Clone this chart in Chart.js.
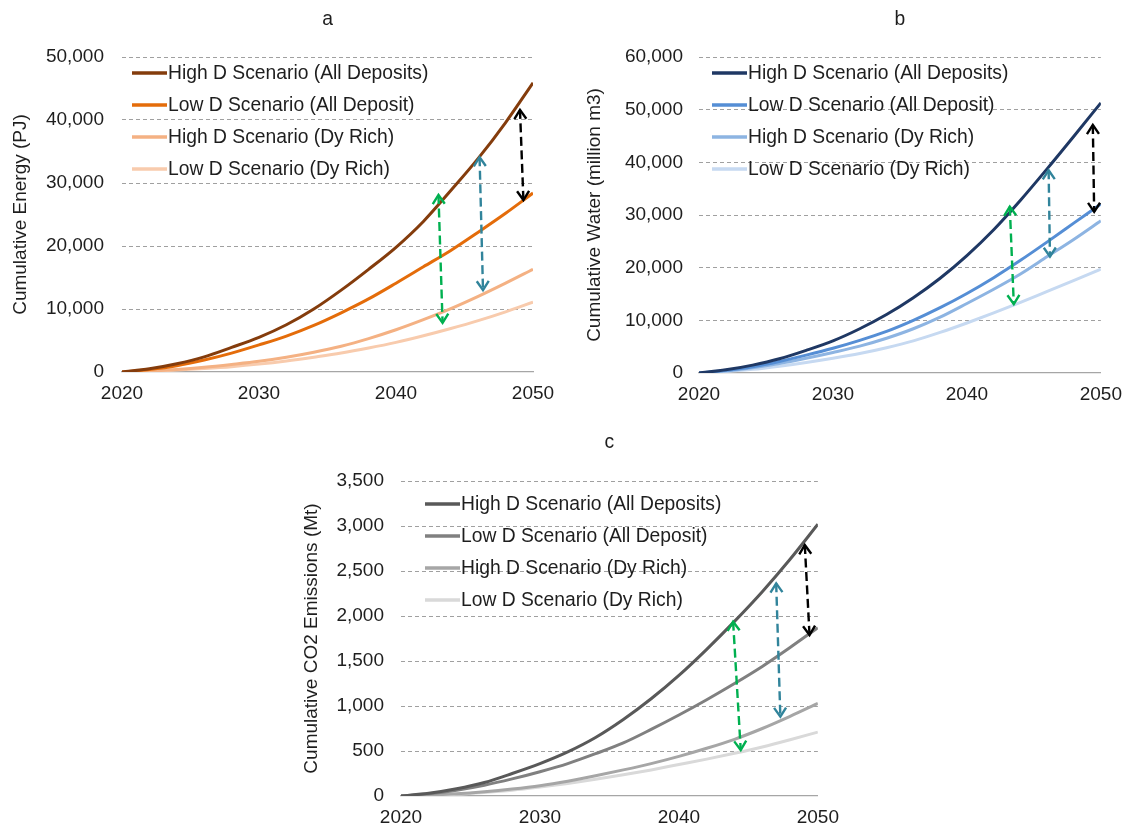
<!DOCTYPE html>
<html>
<head>
<meta charset="utf-8">
<script src="https://cdn.jsdelivr.net/npm/chart.js@4/dist/chart.umd.min.js"></script>
<style>
  html, body { margin: 0; padding: 0; background: #fff; }
  #page { position: relative; width: 1132px; height: 827px; overflow: hidden; background: #fff; }
  .panel { position: absolute; }
</style>
</head>
<body>
<div id="page">
  <div class="panel" style="left:0;top:0"><canvas id="energy" width="566" height="410"></canvas></div>
  <div class="panel" style="left:566px;top:0"><canvas id="water" width="566" height="410"></canvas></div>
  <div class="panel" style="left:283px;top:410px"><canvas id="co2" width="566" height="417"></canvas></div>
</div>
<script>
// ---- data ----
const years = [2020, 2022, 2024, 2026, 2028, 2030, 2032, 2034, 2036, 2038, 2040, 2042, 2044, 2046, 2048, 2050];
const yearTicks = [2020, 2030, 2040, 2050];
const seriesNames = [
  'High D Scenario (All Deposits)',
  'Low D Scenario (All Deposit)',
  'High D Scenario (Dy Rich)',
  'Low D Scenario (Dy Rich)'
];

// Cumulative energy, PJ
const energyHighAll = [0, 500, 1300, 2400, 3900, 5500, 7500, 10000, 13000, 16300, 19800, 23900, 28800, 33900, 39600, 45900];
const energyLowAll  = [0, 400, 1000, 1900, 3000, 4300, 5700, 7400, 9400, 11600, 14100, 16700, 19300, 22200, 25200, 28400];
const energyHighDy  = [0, 150, 400, 750, 1200, 1700, 2350, 3150, 4100, 5300, 6700, 8300, 10050, 12000, 14100, 16300];
const energyLowDy   = [0, 120, 300, 550, 850, 1250, 1750, 2350, 3000, 3800, 4700, 5750, 6900, 8150, 9550, 11100];
const energyTicks   = [0, 10000, 20000, 30000, 40000, 50000];

// Cumulative water, million m3
const waterHighAll = [0, 600, 1500, 2700, 4300, 6100, 8400, 11100, 14300, 18000, 22300, 27200, 32800, 38800, 45000, 51300];
const waterLowAll  = [0, 500, 1200, 2200, 3400, 4700, 6200, 7900, 10000, 12400, 15100, 18100, 21400, 24900, 28500, 32100];
const waterHighDy  = [0, 400, 1000, 1800, 2800, 3900, 5100, 6600, 8400, 10600, 13200, 15900, 18800, 22100, 25400, 28900];
const waterLowDy   = [0, 300, 700, 1300, 2000, 2800, 3700, 4800, 6100, 7700, 9500, 11400, 13400, 15500, 17600, 19700];
const waterTicks   = [0, 10000, 20000, 30000, 40000, 50000, 60000];

// Cumulative CO2 emissions, Mt
const co2HighAll = [0, 30, 80, 150, 250, 360, 490, 650, 850, 1080, 1340, 1630, 1940, 2270, 2630, 3020];
const co2LowAll  = [0, 25, 65, 120, 190, 270, 360, 470, 590, 740, 900, 1070, 1250, 1440, 1650, 1870];
const co2HighDy  = [0, 10, 25, 48, 78, 115, 165, 225, 290, 360, 440, 530, 630, 750, 885, 1030];
const co2LowDy   = [0, 8, 20, 40, 65, 100, 140, 185, 235, 290, 350, 410, 475, 545, 625, 710];
const co2Ticks   = [0, 500, 1000, 1500, 2000, 2500, 3000, 3500];

// Gap arrows: [year at head 1, value at head 1, year at head 2, value at head 2]
const energyGaps = [[2043.1, 28100, 2043.4, 7800], [2046.1, 34100, 2046.35, 13000], [2049.05, 41600, 2049.3, 27300]];
const waterGaps  = [[2043.2, 31600, 2043.5, 13100], [2046.1, 38500, 2046.2, 22100], [2049.4, 47100, 2049.5, 30600]];
const co2Gaps    = [[2043.9, 1937, 2044.45, 511], [2047.0, 2363, 2047.3, 881], [2049.06, 2789, 2049.4, 1789]];

// ---- styling ----
const FONT = '"Liberation Sans", Arial, Helvetica, sans-serif';
const TEXT = '#1E1E1E';
const gapColors = ['#00B050', '#31849B', '#000000'];

function chevron(ctx, tx, ty, dx, dy) {
  // open arrowhead at (tx,ty) pointing along (dx,dy)
  const len = Math.hypot(dx, dy) || 1;
  const ux = dx / len, uy = dy / len;
  const hl = 9, hw = 6;
  const bx = tx - ux * hl, by = ty - uy * hl;
  ctx.beginPath();
  ctx.moveTo(bx - uy * hw, by + ux * hw);
  ctx.lineTo(tx, ty);
  ctx.lineTo(bx + uy * hw, by - ux * hw);
  ctx.stroke();
}

const panelExtras = {
  id: 'panelExtras',
  afterDatasetsDraw(chart, args, opts) {
    const { ctx, chartArea: a, scales: { x, y } } = chart;
    ctx.save();
    ctx.font = '19.3px ' + FONT;
    ctx.fillStyle = TEXT;
    ctx.textBaseline = 'middle';

    // panel letter
    ctx.textAlign = 'center';
    ctx.fillText(opts.letter, (a.left + a.right) / 2, opts.letterY);

    // legend
    ctx.textAlign = 'left';
    chart.data.datasets.forEach((ds, i) => {
      const yy = a.top + opts.legendTop + i * opts.legendGap;
      const x0 = a.left + opts.legendLeft;
      ctx.strokeStyle = ds.borderColor;
      ctx.lineWidth = 3.5;
      ctx.setLineDash([]);
      ctx.beginPath();
      ctx.moveTo(x0, yy);
      ctx.lineTo(x0 + 35, yy);
      ctx.stroke();
      ctx.fillStyle = TEXT;
      ctx.fillText(ds.label, x0 + 36, yy + 1);
    });

    // dashed double-headed gap arrows
    opts.gaps.forEach((g, i) => {
      const x1 = x.getPixelForValue(g[0]), y1 = y.getPixelForValue(g[1]);
      const x2 = x.getPixelForValue(g[2]), y2 = y.getPixelForValue(g[3]);
      ctx.strokeStyle = gapColors[i];
      ctx.lineWidth = 2.4;
      ctx.lineCap = 'butt';
      ctx.lineJoin = 'miter';
      ctx.setLineDash([9, 4.5]);
      ctx.beginPath();
      ctx.moveTo(x1, y1);
      ctx.lineTo(x2, y2);
      ctx.stroke();
      ctx.setLineDash([]);
      chevron(ctx, x1, y1, x1 - x2, y1 - y2);
      chevron(ctx, x2, y2, x2 - x1, y2 - y1);
    });
    ctx.restore();
  }
};

function makeChart(id, cfg) {
  const colors = cfg.colors;
  const datasets = cfg.series.map((vals, i) => ({
    label: seriesNames[i],
    data: years.map((yr, k) => ({ x: yr, y: vals[k] })),
    borderColor: colors[i],
    backgroundColor: colors[i],
    borderWidth: 3,
    pointRadius: 0,
    pointHoverRadius: 0,
    fill: false,
    cubicInterpolationMode: 'monotone'
  }));

  return new Chart(document.getElementById(id), {
    type: 'line',
    data: { datasets },
    plugins: [panelExtras],
    options: {
      responsive: false,
      animation: false,
      devicePixelRatio: 1,
      layout: { padding: { left: 0, right: cfg.padRight, top: cfg.padTop, bottom: 0 } },
      plugins: {
        legend: { display: false },
        title: { display: false },
        tooltip: { enabled: false },
        panelExtras: {
          letter: cfg.letter,
          letterY: cfg.letterY,
          legendLeft: cfg.legendLeft,
          legendTop: cfg.legendTop,
          legendGap: 32,
          gaps: cfg.gaps
        }
      },
      scales: {
        x: {
          type: 'linear',
          min: 2020,
          max: 2050,
          afterBuildTicks: (s) => { s.ticks = yearTicks.map(v => ({ value: v })); },
          afterFit: (s) => { s.height = cfg.xHeight; },
          grid: { display: false, drawTicks: false },
          border: { display: true, color: '#A6A6A6', width: 1.3 },
          ticks: {
            padding: 10,
            maxRotation: 0,
            color: TEXT,
            font: { family: FONT, size: 19 },
            callback: (v) => String(v)
          }
        },
        y: {
          min: 0,
          max: cfg.ticks[cfg.ticks.length - 1],
          afterBuildTicks: (s) => { s.ticks = cfg.ticks.map(v => ({ value: v })); },
          afterFit: (s) => { s.width = cfg.yWidth; },
          grid: {
            drawTicks: false,
            color: (c) => (c.tick && c.tick.value === 0 ? 'rgba(0,0,0,0)' : '#A0A0A0'),
            lineWidth: 1
          },
          border: { display: false, dash: [4, 3] },
          ticks: {
            padding: cfg.tickPad,
            color: TEXT,
            font: { family: FONT, size: 19 },
            callback: (v) => Number(v).toLocaleString('en-US')
          },
          title: {
            display: true,
            text: cfg.yTitle,
            color: TEXT,
            font: { family: FONT, size: 19 },
            padding: { top: cfg.yTitlePad, bottom: 0 }
          }
        }
      }
    }
  });
}

makeChart('energy', {
  series: [energyHighAll, energyLowAll, energyHighDy, energyLowDy],
  colors: ['#843C0C', '#E46C0A', '#F4B183', '#F8CBAD'],
  ticks: energyTicks,
  gaps: energyGaps,
  yTitle: 'Cumulative Energy (PJ)',
  letter: 'a', letterY: 20,
  padTop: 57, padRight: 33, yWidth: 122, xHeight: 38,
  tickPad: 18, yTitlePad: 9,
  legendLeft: 10, legendTop: 16
});

makeChart('water', {
  series: [waterHighAll, waterLowAll, waterHighDy, waterLowDy],
  colors: ['#1F3864', '#558ED5', '#8DB4E2', '#C6D9F1'],
  ticks: waterTicks,
  gaps: waterGaps,
  yTitle: 'Cumulative Water (million m3)',
  letter: 'b', letterY: 20,
  padTop: 57, padRight: 22, yWidth: 133, xHeight: 37,
  tickPad: 16, yTitlePad: 17,
  legendLeft: 13, legendTop: 16
});

makeChart('co2', {
  series: [co2HighAll, co2LowAll, co2HighDy, co2LowDy],
  colors: ['#595959', '#808080', '#A6A6A6', '#D9D9D9'],
  ticks: co2Ticks,
  gaps: co2Gaps,
  yTitle: 'Cumulative CO2 Emissions (Mt)',
  letter: 'c', letterY: 33,
  padTop: 71, padRight: 27, yWidth: 118, xHeight: 31,
  tickPad: 17, yTitlePad: 17,
  legendLeft: 24, legendTop: 23
});
</script>
</body>
</html>
